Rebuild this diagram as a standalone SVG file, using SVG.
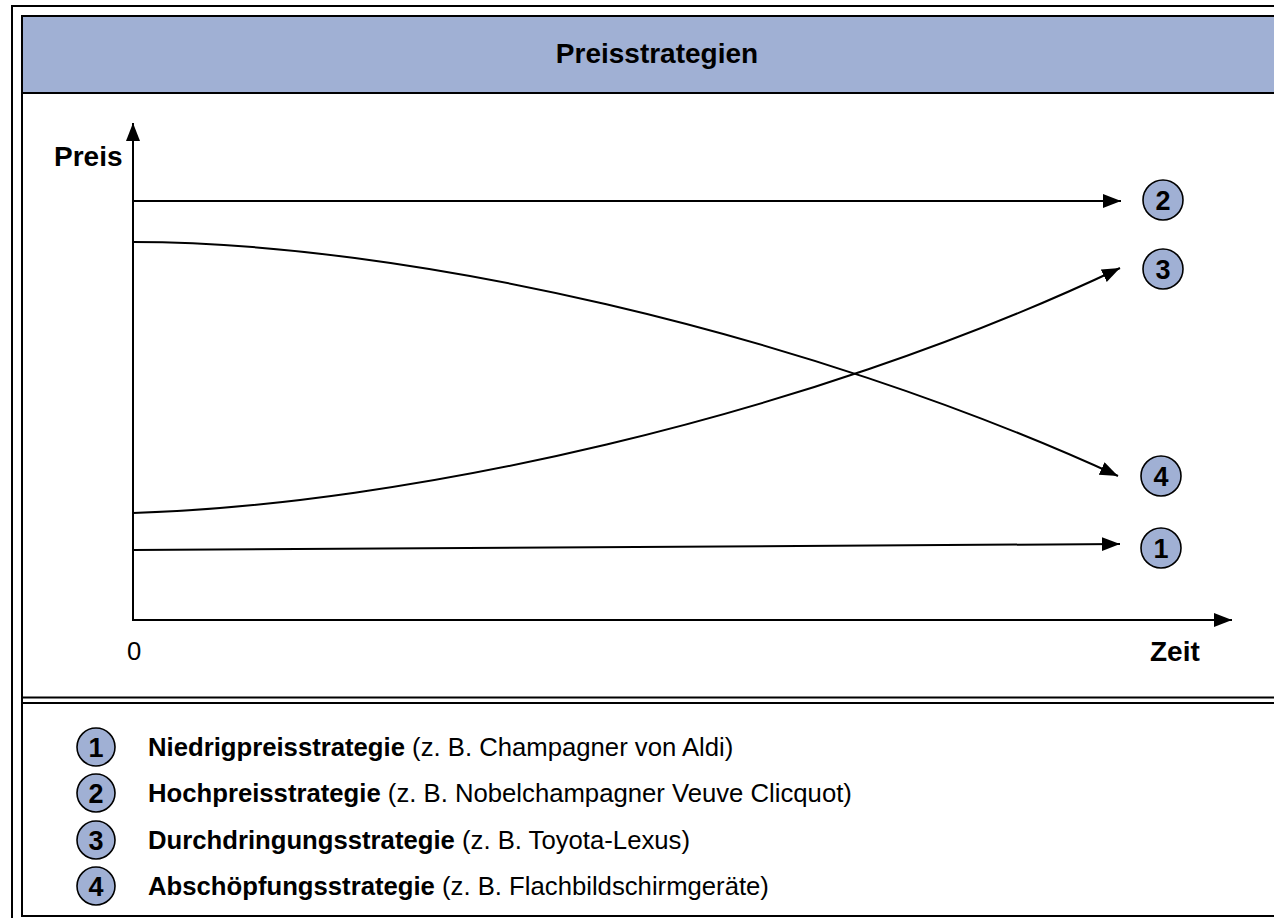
<svg xmlns="http://www.w3.org/2000/svg" width="1274" height="918" viewBox="0 0 1274 918">
<style>
  .frame{fill:none;stroke:#000;stroke-width:2}
  .ln{fill:none;stroke:#000;stroke-width:2}
  .badge{fill:#A0B0D4;stroke:#000;stroke-width:1.6}
  .num{font-family:"Liberation Sans",Arial,sans-serif;font-weight:bold;font-size:27px;text-anchor:middle;fill:#000}
  .lbl{font-family:"Liberation Sans",Arial,sans-serif;font-weight:bold;font-size:28px;fill:#000}
  .leg{font-family:"Liberation Sans",Arial,sans-serif;font-size:25.7px;fill:#000}
  .leg tspan.b{font-weight:bold}
</style>
<defs>
  <marker id="ah" markerUnits="userSpaceOnUse" markerWidth="20" markerHeight="16" refX="18" refY="7" orient="auto">
    <path d="M0,0 L18,7 L0,14 z" fill="#000"/>
  </marker>
</defs>
<rect width="1274" height="918" fill="#fff"/>
<g id="frame">
  <rect class="frame" x="12" y="6" width="1290" height="930"/>
  <rect x="22" y="16" width="1280" height="77" fill="#A0B0D4"/>
  <rect class="frame" x="22" y="16" width="1280" height="900"/>
  <line class="frame" x1="22" y1="93" x2="1274" y2="93" stroke-width="2.5"/>
  <line class="frame" x1="22" y1="697.5" x2="1274" y2="697.5"/>
  <line class="frame" x1="22" y1="703" x2="1274" y2="703"/>
  <text class="lbl" x="657" y="63" text-anchor="middle" font-size="26">Preisstrategien</text>
</g>
<g id="axes">
  <line class="ln" x1="133" y1="621" x2="133" y2="123" marker-end="url(#ah)"/>
  <line class="ln" x1="132" y1="620" x2="1232" y2="620" marker-end="url(#ah)"/>
  <text class="lbl" x="54" y="166">Preis</text>
  <text class="lbl" x="1150" y="661" font-size="29">Zeit</text>
  <text class="leg" x="127" y="660" font-size="28">0</text>
</g>
<g id="connectors">
  <path class="ln" d="M133,201 L1121,201" marker-end="url(#ah)"/>
  <path class="ln" d="M133,550 L1120,544" marker-end="url(#ah)"/>
  <path class="ln" d="M133,513 C400,505 800,420 1120,268" marker-end="url(#ah)"/>
  <path class="ln" d="M133,242 C400,242 800,330 1118,476" marker-end="url(#ah)"/>
</g>
<g id="node-2"><circle class="badge" cx="1163" cy="200" r="20"/><text class="num" x="1163" y="210">2</text></g>
<g id="node-3"><circle class="badge" cx="1163" cy="269" r="20"/><text class="num" x="1163" y="279">3</text></g>
<g id="node-4"><circle class="badge" cx="1161" cy="476" r="20"/><text class="num" x="1161" y="486">4</text></g>
<g id="node-1"><circle class="badge" cx="1161" cy="548" r="20"/><text class="num" x="1161" y="558">1</text></g>
<g id="legend">
  <circle class="badge" cx="96" cy="747" r="19"/><text class="num" x="96" y="757">1</text>
  <text class="leg" x="148" y="756"><tspan class="b">Niedrigpreisstrategie</tspan> (z. B. Champagner von Aldi)</text>
  <circle class="badge" cx="96" cy="793" r="19"/><text class="num" x="96" y="803">2</text>
  <text class="leg" x="148" y="802"><tspan class="b">Hochpreisstrategie</tspan> (z. B. Nobelchampagner Veuve Clicquot)</text>
  <circle class="badge" cx="96" cy="840" r="19"/><text class="num" x="96" y="850">3</text>
  <text class="leg" x="148" y="849"><tspan class="b">Durchdringungsstrategie</tspan> (z. B. Toyota-Lexus)</text>
  <circle class="badge" cx="96" cy="886" r="19"/><text class="num" x="96" y="896">4</text>
  <text class="leg" x="148" y="895"><tspan class="b">Abschöpfungsstrategie</tspan> (z. B. Flachbildschirmgeräte)</text>
</g>
</svg>
